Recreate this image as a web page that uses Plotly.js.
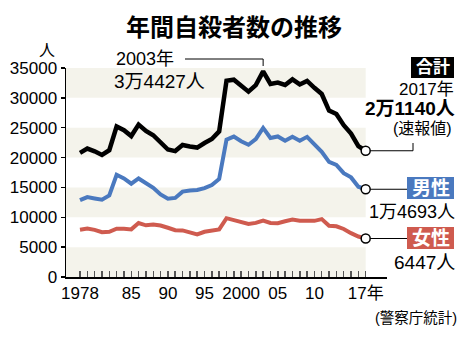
<!DOCTYPE html>
<html>
<head>
<meta charset="utf-8">
<script src="https://cdn.plot.ly/plotly-3.0.1.min.js"></script>
<style>html,body{margin:0;padding:0;background:#fff;}#chart{width:470px;height:340px;}</style>
</head>
<body>
<div id="chart"></div>
<script>
// ---- data (警察庁統計) ----
const years = [1978,1979,1980,1981,1982,1983,1984,1985,1986,1987,1988,1989,1990,1991,1992,1993,1994,1995,1996,1997,1998,1999,2000,2001,2002,2003,2004,2005,2006,2007,2008,2009,2010,2011,2012,2013,2014,2015,2016,2017];
const totalSuicides = [20788,21503,21048,20434,21228,25202,24596,23599,25524,24460,23742,22436,21346,21084,22104,21851,21679,22445,23104,24391,32863,33048,31957,31042,32143,34427,32325,32552,32155,33093,32249,32845,31690,30651,27858,27283,25427,24025,21897,21140];
const maleSuicides = [12859,13386,13155,12942,13654,17116,16508,15624,16497,15802,14934,13818,13102,13242,14296,14468,14560,14874,15393,16416,23013,23512,22727,22144,23080,24963,23272,23540,22813,23478,22831,23472,22283,20955,19273,18787,17386,16681,15121,14693];
const femaleSuicides = [7929,8117,7893,7492,7574,8086,8088,7975,9027,8658,8808,8618,8244,7842,7808,7383,7119,7571,7711,7975,9850,9536,9230,8898,9063,9464,9053,9012,9342,9615,9418,9373,9407,9696,8585,8496,8041,7344,6776,6447];
const tickLabelYears = [1978,1985,1990,1995,2000,2005,2010,2017];
const tickLabels = ['1978','85','90','95','2000','05','10','17年'];
const yTicks = [0,5000,10000,15000,20000,25000,30000,35000];
const yTickLabels = ['0','5000','10000','15000','20000','25000','30000','35000'];
const bandRanges = [[0,5000],[10000,15000],[20000,25000],[30000,35000]];

// ---- layout geometry ----
const W = 470, H = 340;
const M = {l:66, r:83, t:68, b:63};
const PW = W - M.l - M.r, PH = H - M.t - M.b;
const xRange = [1976.09, 2019.91];
const yRange = [0, 35000];
const FONT = 'Liberation Sans, Arial, "Noto Sans CJK JP", sans-serif';
const C_BLACK = '#000000', C_BLUE = '#4a79bf', C_RED = '#cf5b4f', C_BAND = '#f4f3eb';

const px2x = px => (px - M.l) / PW;
const py2y = py => (H - M.b - py) / PH;
const dx = v => (v - xRange[0]) / (xRange[1] - xRange[0]);
const dy = v => (v - yRange[0]) / (yRange[1] - yRange[0]);

const last = a => a[a.length - 1];
const lastYear = last(years);
const peakIdx = totalSuicides.indexOf(Math.max(...totalSuicides));
const peakYear = years[peakIdx];

const ticktext = years.map(y => { const i = tickLabelYears.indexOf(y); return i >= 0 ? tickLabels[i] : ''; });

const traces = [
  {x: years, y: totalSuicides, type: 'scatter', mode: 'lines', line: {color: C_BLACK, width: 4.5}, hoverinfo: 'skip'},
  {x: years, y: maleSuicides, type: 'scatter', mode: 'lines', line: {color: C_BLUE, width: 4}, hoverinfo: 'skip'},
  {x: years, y: femaleSuicides, type: 'scatter', mode: 'lines', line: {color: C_RED, width: 4}, hoverinfo: 'skip'},
  {x: [lastYear, lastYear, lastYear], y: [last(totalSuicides), last(maleSuicides), last(femaleSuicides)],
   type: 'scatter', mode: 'markers', cliponaxis: false,
   marker: {size: 9, color: '#ffffff', line: {color: '#000000', width: 1.5}}, hoverinfo: 'skip'}
];

const shapes = bandRanges.map(r => ({type: 'rect', xref: 'x', yref: 'y', x0: xRange[0], x1: lastYear, y0: r[0], y1: r[1],
  fillcolor: C_BAND, line: {width: 0}, layer: 'below'}));

const lineStyle = {color: '#000000', width: 1};
const cx = dx(lastYear);
// leader lines
shapes.push({type: 'path', xref: 'paper', yref: 'paper', layer: 'below', line: lineStyle,
  path: `M ${cx} ${dy(last(totalSuicides))} L ${px2x(413)} ${dy(last(totalSuicides))} L ${px2x(413)} ${py2y(143)}`});
shapes.push({type: 'line', xref: 'paper', yref: 'paper', layer: 'below', line: lineStyle,
  x0: cx, x1: px2x(407), y0: dy(last(maleSuicides)), y1: dy(last(maleSuicides))});
shapes.push({type: 'line', xref: 'paper', yref: 'paper', layer: 'below', line: lineStyle,
  x0: cx, x1: px2x(407), y0: dy(last(femaleSuicides)), y1: dy(last(femaleSuicides))});
shapes.push({type: 'path', xref: 'paper', yref: 'paper', layer: 'above', line: lineStyle,
  path: `M ${px2x(185)} ${py2y(59)} L ${dx(peakYear)} ${py2y(59)} L ${dx(peakYear)} ${py2y(66)}`});
// label boxes
const box = (x0, x1, y0, y1, color) => ({type: 'rect', xref: 'paper', yref: 'paper', layer: 'above',
  x0: px2x(x0), x1: px2x(x1), y0: py2y(y1), y1: py2y(y0), fillcolor: color, line: {width: 0}});
shapes.push(box(411, 454, 57, 78, C_BLACK));
shapes.push(box(407, 454, 177, 199, C_BLUE));
shapes.push(box(407, 454, 227, 249, C_RED));

const fmtMan = v => { const m = Math.floor(v / 10000), r = v % 10000; return (m > 0 ? m + '万' : '') + r + '人'; };

const ann = (text, px, py, xanchor, size, opts = {}) => Object.assign({
  text, xref: 'paper', yref: 'paper', x: px2x(px), y: py2y(py), xanchor, yanchor: 'middle',
  showarrow: false, font: {family: FONT, size, color: '#000000'}}, opts);

const annotations = [
  ann('<b>年間自殺者数の推移</b>', 234, 28, 'center', 24),
  ann('人', 47, 51, 'center', 16),
  ann(peakYear + '年', 114, 59, 'left', 18),
  ann(fmtMan(totalSuicides[peakIdx]), 112, 81, 'left', 19),
  ann('<b>合計</b>', 432.5, 67.5, 'center', 17, {font: {family: FONT, size: 17, color: '#ffffff'}}),
  ann(lastYear + '年', 456, 89, 'right', 17),
  ann('<b>' + fmtMan(last(totalSuicides)) + '</b>', 457, 108, 'right', 19),
  ann('(速報値)', 454, 128, 'right', 16),
  ann('<b>男性</b>', 430.5, 188, 'center', 19, {font: {family: FONT, size: 19, color: '#ffffff'}}),
  ann(fmtMan(last(maleSuicides)), 457, 212, 'right', 18),
  ann('<b>女性</b>', 430.5, 238, 'center', 19, {font: {family: FONT, size: 19, color: '#ffffff'}}),
  ann(fmtMan(last(femaleSuicides)), 457, 262, 'right', 19),
  ann('(警察庁統計)', 459, 318, 'right', 14.5)
];

const layout = {
  width: W, height: H, margin: M, showlegend: false,
  paper_bgcolor: '#ffffff', plot_bgcolor: '#ffffff',
  font: {family: FONT, size: 17, color: '#000000'},
  xaxis: {range: xRange, showgrid: false, zeroline: false, showline: true, linecolor: '#000000', linewidth: 1.5,
    tickmode: 'array', tickvals: years, ticktext: ticktext, ticks: 'inside', ticklen: 6, tickwidth: 1.5, tickcolor: '#555555',
    tickfont: {family: FONT, size: 17, color: '#000000'}, fixedrange: true},
  yaxis: {range: yRange, showgrid: false, zeroline: false, showline: true, linecolor: '#000000', linewidth: 1.5,
    tickmode: 'array', tickvals: yTicks, ticktext: yTickLabels, ticks: 'outside', ticklen: 4, tickwidth: 1.5, tickcolor: '#000000',
    tickfont: {family: FONT, size: 17, color: '#000000'}, fixedrange: true},
  shapes, annotations
};

Plotly.newPlot('chart', traces, layout, {staticPlot: true, displayModeBar: false});
</script>
</body>
</html>
